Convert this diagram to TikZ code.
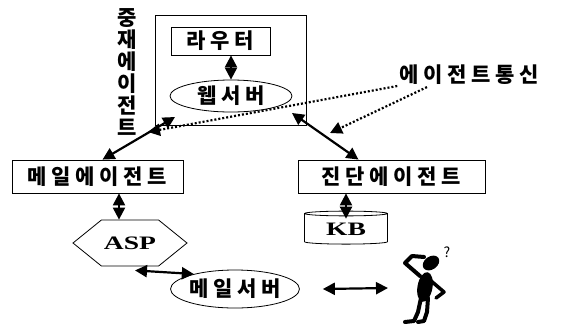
\documentclass[tikz,border=0pt]{standalone}
\usepackage{fontspec}
\setmainfont{Noto Sans CJK KR}[LetterSpace=22]
\newfontfamily\latinbf{Liberation Serif}[FakeStretch=1.45]
\usetikzlibrary{arrows.meta,shapes.geometric,shapes.symbols}

\newcommand\kor{\bfseries\fontsize{21}{22}\selectfont}
\newcommand\lat{\latinbf\bfseries\fontsize{19}{19}\selectfont}

\tikzset{
  box/.style={draw,rectangle,line width=.8pt},
  oval/.style={draw,ellipse,line width=.8pt,inner sep=0pt},
  both/.style={draw,{Triangle[length=12pt,width=12pt]}-{Triangle[length=12pt,width=12pt]},line width=2.2pt},
  talk/.style={draw,-{Triangle[length=12pt,width=12pt]},line width=2.2pt,dash pattern=on 2pt off 2pt},
}

\begin{document}
\begin{tikzpicture}[x=1pt,y=-1pt]
        \useasboundingbox (0,0) rectangle (565,325);

        \begin{scope}[every node/.style={box,font=\kor}]
          \node[minimum width=151pt,minimum height=110pt] (mid) at (230.5,70) {};
          \node[minimum width=99pt,minimum height=28pt] (router) at (220.5,41) {라우터};
          \node[minimum width=171pt,minimum height=33pt] (mailag) at (97.5,176.5) {메일에이전트};
          \node[minimum width=187pt,minimum height=33pt] (diagag) at (391.5,176.5) {진단에이전트};
        \end{scope}

        \node[oval,font=\kor,minimum width=122pt,minimum height=32pt] (web) at (231,96) {웹서버};
        \node[oval,font=\kor,minimum width=114pt,minimum height=38pt] (mailsv) at (235,289) {메일서버};
        \node[draw,line width=.8pt,signal,signal to=west and east,signal pointer angle=78,
              minimum width=114pt,minimum height=46pt,inner sep=0pt,font=\lat] (asp) at (130,243) {ASP};
        \node[draw,line width=.8pt,cylinder,shape border rotate=90,aspect=0.12,
              minimum width=83pt,minimum height=33pt,inner sep=0pt,font=\lat] (kb) at (346,229) {KB};

        \node[font=\kor,align=center,inner sep=0pt] (broker) at (127,72) {중\\재\\에\\이\\전\\트};
        \node[font=\kor,inner sep=2pt] (comm) at (469,75) {에이전트통신};

        \coordinate (wl) at (175,117);
        \coordinate (wr) at (292,113);
        \coordinate (dl) at (148,132);
        \coordinate (dr) at (330,133);
        \coordinate (user) at (388,288);

        \path (router.south -| web.north) edge[both] (web.north);
        \path (wl) edge[both] ([xshift=5pt]mailag.north);
        \path (wr) edge[both] ([xshift=-33pt]diagag.north);
        \path ([xshift=21.5pt]mailag.south) edge[both] ([xshift=-11pt]asp.north);
        \path (kb.north |- diagag.south) edge[both] ([yshift=-8pt]kb.north);
        \path ([xshift=5pt,yshift=-4pt]asp.south) edge[both] (mailsv.160);
        \path ([xshift=23pt]mailsv.east) edge[both] (user);

        \path ([yshift=-11pt]comm.west) edge[talk] (dl);
        \path ([xshift=-42pt]comm.south) edge[talk] (dr);

        % thinking user
        \begin{scope}[line cap=round,line join=round]
          \fill[rotate around={35:(431,263)}] (431,263) ellipse (9pt and 6.5pt);
          \fill[rotate around={-10:(425,287)}] (425,287) ellipse (7.5pt and 15pt);
          \draw[line width=4pt] (420,276) -- (405,263) -- (412,256) -- (424,257);
          \draw[line width=3.5pt] (430,280) -- (444,292) -- (436,298);
          \draw[line width=4pt] (421,298) -- (418,312) -- (414,321) -- (405,322);
          \draw[line width=4pt] (428,298) -- (427,312) -- (424,321) -- (418,322);
          \node[font=\fontsize{14}{14}\selectfont,inner sep=0pt] (ask) at (447,252) {?};
        \end{scope}

      \end{tikzpicture}
\end{document}
